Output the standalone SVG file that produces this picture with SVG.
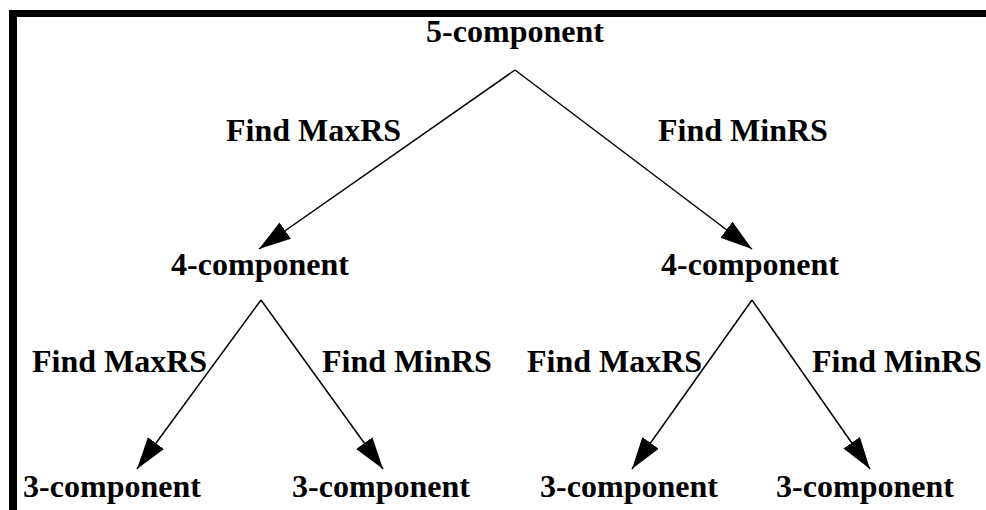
<svg xmlns="http://www.w3.org/2000/svg" width="986" height="510" viewBox="0 0 986 510">
<style>
text{font-family:"Liberation Serif","Times New Roman",serif;font-weight:bold;font-size:32px;fill:#000}
.n{text-anchor:middle}
.e{stroke:#000;stroke-width:1.5;fill:none}
</style>
<defs>
<marker id="ah" markerUnits="userSpaceOnUse" markerWidth="32" markerHeight="22" refX="32" refY="10" orient="auto" viewBox="0 0 32 20">
<path d="M0,0 L32,10 L0,20 z" fill="#000"/>
</marker>
</defs>
<rect width="986" height="510" fill="#fff"/>
<g id="frame">
<rect x="9" y="10" width="977" height="7" fill="#000"/>
<rect x="9" y="10" width="8" height="500" fill="#000"/>
</g>
<g id="connectors">
<line class="e" x1="515" y1="70" x2="259" y2="249" marker-end="url(#ah)"/>
<line class="e" x1="515" y1="70" x2="752" y2="249" marker-end="url(#ah)"/>
<line class="e" x1="261" y1="300" x2="137" y2="469" marker-end="url(#ah)"/>
<line class="e" x1="261" y1="300" x2="383" y2="469" marker-end="url(#ah)"/>
<line class="e" x1="752" y1="300" x2="632" y2="469" marker-end="url(#ah)"/>
<line class="e" x1="752" y1="300" x2="870" y2="469" marker-end="url(#ah)"/>
</g>
<g id="edge-labels">
<text x="226" y="141">Find MaxRS</text>
<text x="658" y="141">Find MinRS</text>
<text x="32" y="372">Find MaxRS</text>
<text x="322" y="372">Find MinRS</text>
<text x="527" y="372">Find MaxRS</text>
<text x="812" y="372">Find MinRS</text>
</g>
<g id="n5"><text class="n" x="515" y="42">5-component</text></g>
<g id="n4a"><text class="n" x="260" y="275">4-component</text></g>
<g id="n4b"><text class="n" x="750" y="275">4-component</text></g>
<g id="n3a"><text class="n" x="112" y="497">3-component</text></g>
<g id="n3b"><text class="n" x="381" y="497">3-component</text></g>
<g id="n3c"><text class="n" x="629" y="497">3-component</text></g>
<g id="n3d"><text class="n" x="865" y="497">3-component</text></g>
</svg>
